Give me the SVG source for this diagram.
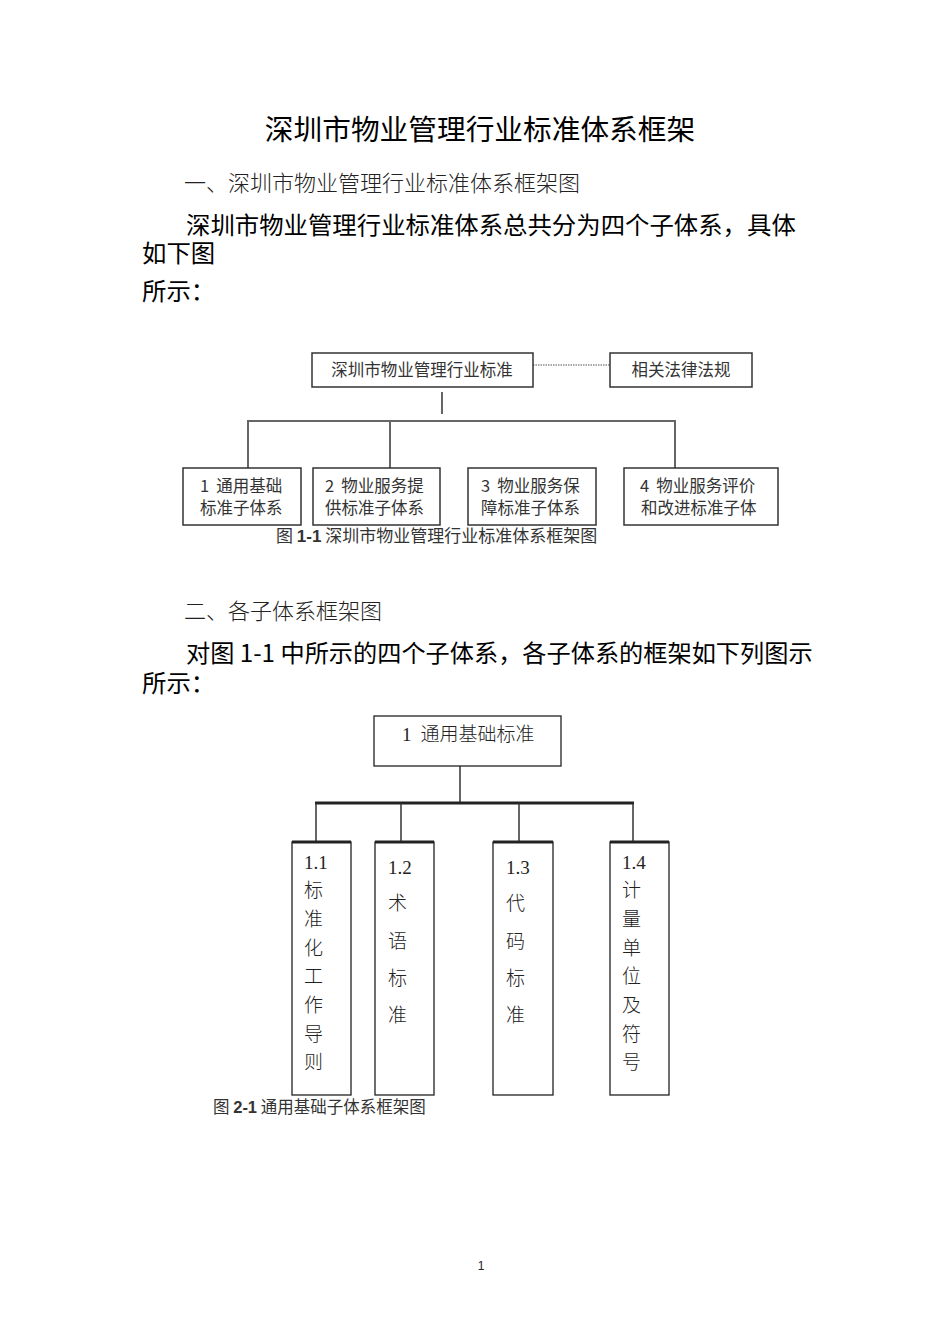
<svg xmlns="http://www.w3.org/2000/svg" width="950" height="1344" viewBox="0 0 950 1344">
<style>
  .hei { font-family: "Noto Sans CJK SC", "Noto Sans", sans-serif; fill: #000; }
  .light { font-family: "Noto Sans CJK SC", "Noto Sans", sans-serif; font-weight: 300; fill: #222; }
  .d1 { font-family: "Noto Sans CJK SC", "Noto Sans", sans-serif; font-size: 16.5px; fill: #333; }
  .cap { font-family: "Noto Sans CJK SC", "Noto Sans", sans-serif; fill: #333; }
  .d2 { font-family: "Liberation Serif", "Noto Sans CJK SC", serif; font-size: 19px; fill: #222; font-weight: 300; }
  .box { fill: #fff; stroke: #333; stroke-width: 1.5; }
  .box2 { fill: #fff; stroke: #222; stroke-width: 1.3; }
  .line1 { stroke: #666; stroke-width: 2; fill: none; }
  .line2 { stroke: #333; stroke-width: 1.5; fill: none; }
</style>
<rect width="950" height="1344" fill="#fff"/>

<!-- page text -->
<text class="hei" x="480" y="140" font-size="28.7" text-anchor="middle">深圳市物业管理行业标准体系框架</text>
<text class="light" x="184" y="191" font-size="22">一、深圳市物业管理行业标准体系框架图</text>
<text class="hei" x="186" y="234" font-size="24.4">深圳市物业管理行业标准体系总共分为四个子体系，具体</text>
<text class="hei" x="142" y="262" font-size="24.4">如下图</text>
<text class="hei" x="142" y="300" font-size="24.4">所示：</text>

<!-- Diagram 1 connectors -->
<g id="connectors-1">
  <line x1="533" y1="365" x2="610" y2="365" stroke="#555" stroke-width="1.2" stroke-dasharray="1.5,1"/>
  <line class="line2" x1="442" y1="392" x2="442" y2="414"/>
  <polyline class="line1" points="248,468 248,421 675,421 675,468"/>
  <line class="line1" x1="390" y1="421" x2="390" y2="468"/>
</g>

<g id="n-root">
  <rect class="box" x="312" y="353" width="221" height="34"/>
  <text class="d1" x="422" y="376" font-size="17" text-anchor="middle">深圳市物业管理行业标准</text>
</g>
<g id="n-law">
  <rect class="box" x="610" y="353" width="142" height="34"/>
  <text class="d1" x="681" y="376" font-size="17" text-anchor="middle">相关法律法规</text>
</g>
<g id="n-1">
  <rect class="box" x="183" y="468" width="118" height="57"/>
  <text class="d1" x="200" y="492">1<tspan dx="7">通用基础</tspan></text>
  <text class="d1" x="200" y="514">标准子体系</text>
</g>
<g id="n-2">
  <rect class="box" x="313" y="468" width="127" height="57"/>
  <text class="d1" x="325" y="492">2<tspan dx="7">物业服务提</tspan></text>
  <text class="d1" x="325" y="514">供标准子体系</text>
</g>
<g id="n-3">
  <rect class="box" x="468" y="468" width="128" height="57"/>
  <text class="d1" x="481" y="492">3<tspan dx="7">物业服务保</tspan></text>
  <text class="d1" x="481" y="514">障标准子体系</text>
</g>
<g id="n-4">
  <rect class="box" x="624" y="468" width="154" height="57"/>
  <text class="d1" x="640" y="492">4<tspan dx="7">物业服务评价</tspan></text>
  <text class="d1" x="641" y="514">和改进标准子体</text>
</g>

<text class="cap" x="276" y="542" font-size="17">图 <tspan font-weight="bold" font-family="Liberation Sans, sans-serif">1-1</tspan> 深圳市物业管理行业标准体系框架图</text>

<text class="light" x="184" y="619" font-size="22">二、各子体系框架图</text>
<text class="hei" x="186" y="662" font-size="24.2">对图 1-1 中所示的四个子体系，各子体系的框架如下列图示</text>
<text class="hei" x="142" y="692" font-size="24.4">所示：</text>

<!-- Diagram 2 connectors -->
<g id="connectors-2">
  <line class="line2" x1="460" y1="766" x2="460" y2="803"/>
  <line x1="315" y1="803" x2="634" y2="803" stroke="#222" stroke-width="3"/>
  <line class="line2" x1="316" y1="803" x2="316" y2="842"/>
  <line class="line2" x1="401" y1="803" x2="401" y2="842"/>
  <line class="line2" x1="519" y1="803" x2="519" y2="842"/>
  <line class="line2" x1="633" y1="803" x2="633" y2="842"/>
</g>

<g id="m-root">
  <rect class="box2" x="374" y="716" width="187" height="50"/>
  <text class="d2" x="402" y="741">1<tspan dx="9">通用基础标准</tspan></text>
</g>
<g id="m-1-1">
  <rect class="box2" x="292" y="842" width="59" height="253"/>
  <line x1="292" y1="842" x2="351" y2="842" stroke="#222" stroke-width="3"/>
  <text class="d2" x="304" y="869">1.1</text>
  <text class="d2" x="304" y="897">标</text>
  <text class="d2" x="304" y="926">准</text>
  <text class="d2" x="304" y="955">化</text>
  <text class="d2" x="304" y="983">工</text>
  <text class="d2" x="304" y="1012">作</text>
  <text class="d2" x="304" y="1041">导</text>
  <text class="d2" x="304" y="1069">则</text>
</g>
<g id="m-1-2">
  <rect class="box2" x="375" y="842" width="59" height="253"/>
  <line x1="375" y1="842" x2="434" y2="842" stroke="#222" stroke-width="3"/>
  <text class="d2" x="388" y="874">1.2</text>
  <text class="d2" x="388" y="910">术</text>
  <text class="d2" x="388" y="948">语</text>
  <text class="d2" x="388" y="985">标</text>
  <text class="d2" x="388" y="1022">准</text>
</g>
<g id="m-1-3">
  <rect class="box2" x="493" y="842" width="60" height="253"/>
  <line x1="493" y1="842" x2="553" y2="842" stroke="#222" stroke-width="3"/>
  <text class="d2" x="506" y="874">1.3</text>
  <text class="d2" x="506" y="910">代</text>
  <text class="d2" x="506" y="948">码</text>
  <text class="d2" x="506" y="985">标</text>
  <text class="d2" x="506" y="1022">准</text>
</g>
<g id="m-1-4">
  <rect class="box2" x="610" y="842" width="59" height="253"/>
  <line x1="610" y1="842" x2="669" y2="842" stroke="#222" stroke-width="3"/>
  <text class="d2" x="622" y="869">1.4</text>
  <text class="d2" x="622" y="897">计</text>
  <text class="d2" x="622" y="926">量</text>
  <text class="d2" x="622" y="955">单</text>
  <text class="d2" x="622" y="983">位</text>
  <text class="d2" x="622" y="1012">及</text>
  <text class="d2" x="622" y="1041">符</text>
  <text class="d2" x="622" y="1069">号</text>
</g>

<text class="cap" x="213" y="1113" font-size="16.5">图 <tspan font-weight="bold" font-family="Liberation Sans, sans-serif">2-1</tspan> 通用基础子体系框架图</text>

<text x="481" y="1270" font-family="Liberation Sans, sans-serif" font-size="12" text-anchor="middle" fill="#222">1</text>
</svg>
